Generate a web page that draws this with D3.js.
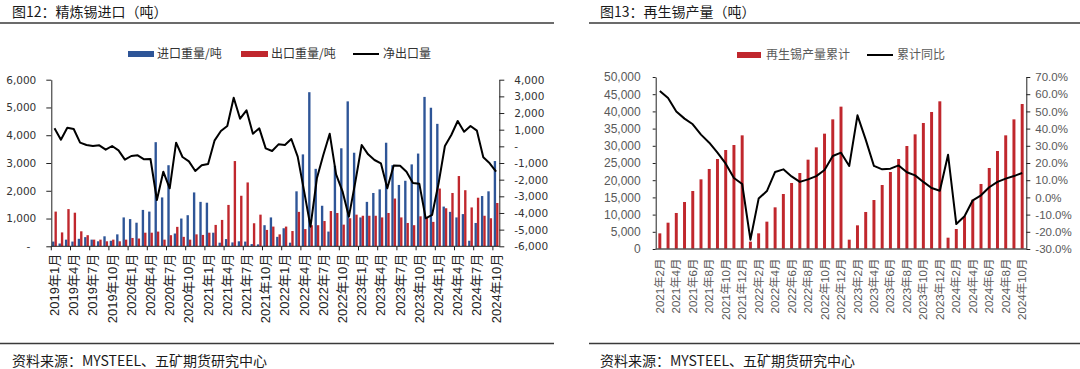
<!DOCTYPE html>
<html><head><meta charset="utf-8">
<script src="https://cdn.jsdelivr.net/npm/d3@7"></script>
<style>
body{margin:0;background:#fff;}
svg{display:block;}
</style></head><body>
<svg id="c" width="1080" height="369"></svg>
<script>
// ---------- Chart 1 data: 精炼锡进口 ----------
const months1 = [
 "2019年1月","2019年2月","2019年3月","2019年4月","2019年5月","2019年6月","2019年7月","2019年8月","2019年9月","2019年10月","2019年11月","2019年12月",
 "2020年1月","2020年2月","2020年3月","2020年4月","2020年5月","2020年6月","2020年7月","2020年8月","2020年9月","2020年10月","2020年11月","2020年12月",
 "2021年1月","2021年2月","2021年3月","2021年4月","2021年5月","2021年6月","2021年7月","2021年8月","2021年9月","2021年10月","2021年11月","2021年12月",
 "2022年1月","2022年2月","2022年3月","2022年4月","2022年5月","2022年6月","2022年7月","2022年8月","2022年9月","2022年10月","2022年11月","2022年12月",
 "2023年1月","2023年2月","2023年3月","2023年4月","2023年5月","2023年6月","2023年7月","2023年8月","2023年9月","2023年10月","2023年11月","2023年12月",
 "2024年1月","2024年2月","2024年3月","2024年4月","2024年5月","2024年6月","2024年7月","2024年8月","2024年9月","2024年10月"
];
const importVol = [
 170,100,240,170,270,330,240,180,360,200,430,1040,
 980,850,1310,1250,3750,1760,2920,460,1000,1120,1940,1600,
 1570,490,130,260,140,180,170,80,70,760,1040,340,
 650,130,1980,3310,5550,2790,1460,530,2900,3530,5220,3370,
 1040,1600,1920,2050,3730,2920,2210,2360,2950,3340,5380,4990,
 4410,1430,1240,1040,1160,200,840,1810,1980,3070
];
const exportVol = [
 1250,500,1340,1210,540,400,240,240,180,240,180,240,
 300,280,490,490,530,240,400,700,340,240,430,410,
 490,770,950,1490,3070,1820,2300,830,1140,590,710,430,
 710,550,1240,620,760,760,910,1270,1200,780,1010,1140,
 1100,1100,1100,1040,1200,1720,1040,840,760,1080,1030,880,
 2080,1370,1920,2530,2020,1400,1750,1100,1010,1560
];
const netExport = [
 1080,400,1120,1040,220,80,20,60,-200,20,-240,-800,
 -580,-540,-780,-760,-3220,-1520,-2520,220,-640,-900,-1480,-1140,
 -1060,340,920,1220,2920,1660,2160,760,1080,-120,-280,120,
 80,440,-620,-2690,-4820,-1920,-520,760,-1680,-2700,-4220,-2150,
 80,-480,-820,-1020,-2520,-1150,-1160,-1520,-2200,-2240,-4320,-4120,
 -2250,20,680,1520,880,1220,940,-660,-1020,-1520
];
const leftTicks1 = [0,1000,2000,3000,4000,5000,6000];
const rightTicks1 = [-6000,-5000,-4000,-3000,-2000,-1000,0,1000,2000,3000,4000];
const legend1 = ["进口重量/吨","出口重量/吨","净出口量"];

// ---------- Chart 2 data: 再生锡产量 ----------
const months2 = [
 "2021年2月","2021年3月","2021年4月","2021年5月","2021年6月","2021年7月","2021年8月","2021年9月","2021年10月","2021年11月","2021年12月",
 "2022年1月","2022年2月","2022年3月","2022年4月","2022年5月","2022年6月","2022年7月","2022年8月","2022年9月","2022年10月","2022年11月","2022年12月",
 "2023年1月","2023年2月","2023年3月","2023年4月","2023年5月","2023年6月","2023年7月","2023年8月","2023年9月","2023年10月","2023年11月","2023年12月",
 "2024年1月","2024年2月","2024年3月","2024年4月","2024年5月","2024年6月","2024年7月","2024年8月","2024年9月","2024年10月"
];
const recycledCum = [
 4550,7650,10470,13660,16860,20250,23260,26160,28780,30230,33040,
 2130,4550,7950,12110,15990,19190,22090,25970,29550,33530,37690,41380,
 2710,6880,10760,14240,18600,22380,26160,29940,33330,36630,39830,42930,
 3290,5810,9500,14340,18900,23550,28490,33040,37690,42150
];
const cumYoY = [
 61.9,57.8,50.0,45.8,42.5,36.5,31.8,26.0,19.6,11.3,7.8,
 -24.6,-0.7,3.7,14.8,16.3,12.2,9.0,10.5,12.4,15.9,24.1,26.0,
 18.3,47.7,33.6,18.3,16.3,16.7,18.6,14.6,12.8,9.0,5.5,3.9,
 24.8,-15.5,-11.0,-1.7,1.2,5.9,9.0,10.9,12.4,14.2
];
const leftTicks2 = [0,5000,10000,15000,20000,25000,30000,35000,40000,45000,50000];
const rightTicks2 = [-30,-20,-10,0,10,20,30,40,50,60,70];
const legend2 = ["再生锡产量累计","累计同比"];

const titles = ["图12：精炼锡进口（吨）","图13：再生锡产量（吨）"];
const source = "资料来源：MYSTEEL、五矿期货研究中心";

// ---------- styles ----------
const BLUE = "#2E5597", RED = "#C0272D";
const CJK = '"Noto Sans CJK SC","Noto Sans",sans-serif';
const LAT = '"Liberation Sans","Noto Sans CJK SC",sans-serif';

const svg = d3.select("#c");

// titles, rules, footers
[[12,0,554],[600,589,1080]].forEach(([tx,r0,r1],k)=>{
  svg.append("text").attr("x",tx).attr("y",16.5).text(titles[k])
    .style("font-family",CJK).style("font-size","14px").attr("fill","#1a1a1a");
  svg.append("line").attr("x1",r0).attr("x2",r1).attr("y1",23).attr("y2",23)
    .attr("stroke","#3a3a3a").attr("stroke-width",1.6);
  svg.append("line").attr("x1",r0).attr("x2",r1).attr("y1",343.5).attr("y2",343.5)
    .attr("stroke","#3a3a3a").attr("stroke-width",1.6);
  svg.append("text").attr("x",tx).attr("y",365.5).text(source)
    .style("font-family",CJK).style("font-size","14px").attr("fill","#1a1a1a");
});

function styleAxis(g, color, font, size, tcolor){
  g.select(".domain").attr("stroke",color).attr("stroke-width",1);
  g.selectAll(".tick line").attr("stroke",color);
  g.selectAll(".tick text").style("font-family",font).style("font-size",size).attr("fill",tcolor);
}
const fmtK = d => d===0 ? "-" : d3.format(",")(d).replace("−","-");

// ================= Chart 1 =================
{
  const x0 = 51.3, x1 = 499.3, yTop = 79.7, yBot = 246.3;
  const x = d3.scaleBand().domain(months1).range([x0,x1]).padding(0);
  const bw = x.bandwidth();
  const xs = d3.scaleBand().domain(["imp","exp"]).range([bw*0.13, bw*0.87]).padding(0);
  const yL = d3.scaleLinear().domain([0,6000]).range([yBot,yTop]);
  const yR = d3.scaleLinear().domain([-6000,4000]).range([yBot,yTop]);
  const g = svg.append("g");

  g.append("g").selectAll("rect.imp").data(months1).join("rect")
    .attr("x",(m)=>x(m)+xs("imp")).attr("width",xs.bandwidth())
    .attr("y",(m,i)=>yL(importVol[i])).attr("height",(m,i)=>yBot-yL(importVol[i]))
    .attr("fill",BLUE);
  g.append("g").selectAll("rect.exp").data(months1).join("rect")
    .attr("x",(m)=>x(m)+xs("exp")).attr("width",xs.bandwidth())
    .attr("y",(m,i)=>yL(exportVol[i])).attr("height",(m,i)=>yBot-yL(exportVol[i]))
    .attr("fill",RED);

  const line = d3.line().x((d,i)=>x(months1[i])+bw/2).y(d=>yR(d));
  g.append("path").datum(netExport).attr("d",line).attr("fill","none")
    .attr("stroke","#000").attr("stroke-width",2).attr("stroke-linejoin","round");

  const ga = g.append("g").attr("transform",`translate(${x0},0)`)
    .call(d3.axisLeft(yL).tickValues(leftTicks1).tickSize(5).tickSizeOuter(0).tickPadding(10).tickFormat(fmtK));
  styleAxis(ga,"#222",'"DejaVu Sans",sans-serif',"10.5px","#333");
  ga.selectAll(".tick text").filter(d=>d===0).attr("dx",-6);
  const gb = g.append("g").attr("transform",`translate(${x1},0)`)
    .call(d3.axisRight(yR).tickValues(rightTicks1).tickSize(5).tickSizeOuter(0).tickPadding(10).tickFormat(fmtK));
  styleAxis(gb,"#222",'"DejaVu Sans",sans-serif',"10.5px","#333");

  // x axis
  g.append("line").attr("x1",x0).attr("x2",x1).attr("y1",yBot).attr("y2",yBot).attr("stroke","#222");
  const tickMonths = months1.filter((m,i)=>i%3===0);
  g.append("g").selectAll("line").data(tickMonths).join("line")
    .attr("x1",m=>x(m)).attr("x2",m=>x(m)).attr("y1",yBot).attr("y2",yBot+4).attr("stroke","#222");
  g.append("g").selectAll("text").data(tickMonths).join("text")
    .attr("transform",m=>`translate(${x(m)+bw/2},${yBot+7.5}) rotate(-90)`)
    .attr("text-anchor","end").attr("dy","0.35em").text(m=>m)
    .style("font-family",LAT).style("font-size","13px").attr("fill","#222");

  // legend
  const ly = 54;
  const lg = g.append("g");
  lg.append("rect").attr("x",128).attr("y",ly-3).attr("width",26).attr("height",6).attr("fill",BLUE);
  lg.append("text").attr("x",157).attr("y",ly).attr("dy","0.36em").text(legend1[0]);
  lg.append("rect").attr("x",241).attr("y",ly-3).attr("width",27).attr("height",6).attr("fill",RED);
  lg.append("text").attr("x",271).attr("y",ly).attr("dy","0.36em").text(legend1[1]);
  lg.append("line").attr("x1",353).attr("x2",379).attr("y1",ly).attr("y2",ly).attr("stroke","#000").attr("stroke-width",2);
  lg.append("text").attr("x",383).attr("y",ly).attr("dy","0.36em").text(legend1[2]);
  lg.selectAll("text").style("font-family",CJK).style("font-size","12px").attr("fill","#333");
}

// ================= Chart 2 =================
{
  const x0 = 655.7, x1 = 1026.3, yTop = 77, yBot = 249;
  const x = d3.scaleBand().domain(months2).range([x0,x1]).paddingInner(0.64).paddingOuter(0.32);
  const bw = x.bandwidth();
  const yL = d3.scaleLinear().domain([0,50000]).range([yBot,yTop]);
  const yR = d3.scaleLinear().domain([-30,70]).range([yBot,yTop]);
  const g = svg.append("g");

  g.append("g").selectAll("rect").data(months2).join("rect")
    .attr("x",m=>x(m)).attr("width",bw)
    .attr("y",(m,i)=>yL(recycledCum[i])).attr("height",(m,i)=>yBot-yL(recycledCum[i]))
    .attr("fill",RED);

  const line = d3.line().x((d,i)=>x(months2[i])+bw/2).y(d=>yR(d));
  g.append("path").datum(cumYoY).attr("d",line).attr("fill","none")
    .attr("stroke","#000").attr("stroke-width",2).attr("stroke-linejoin","round");

  const ga = g.append("g").attr("transform",`translate(${x0},0)`)
    .call(d3.axisLeft(yL).tickValues(leftTicks2).tickSize(3).tickSizeOuter(0).tickPadding(12).tickFormat(d3.format(",")));
  styleAxis(ga,"#222",LAT,"12px","#595959");
  const gb = g.append("g").attr("transform",`translate(${x1},0)`)
    .call(d3.axisRight(yR).tickValues(rightTicks2).tickSize(4).tickSizeOuter(0).tickPadding(5)
      .tickFormat(d=>(d<0?"-":"")+Math.abs(d).toFixed(1)+"%"));
  styleAxis(gb,"#222",LAT,"11.5px","#595959");

  g.append("line").attr("x1",x0).attr("x2",x1).attr("y1",yBot).attr("y2",yBot)
    .attr("stroke","#555").attr("stroke-width",1.5);
  const labMonths = months2.filter((m,i)=>i%2===0);
  g.append("g").selectAll("text").data(labMonths).join("text")
    .attr("transform",m=>`translate(${x(m)+bw/2},${yBot+9.5}) rotate(-90)`)
    .attr("text-anchor","end").attr("dy","0.35em").text(m=>m)
    .style("font-family",LAT).style("font-size","11.5px").attr("fill","#595959");

  const ly = 55;
  const lg = g.append("g");
  lg.append("rect").attr("x",737).attr("y",ly-3).attr("width",24).attr("height",6).attr("fill",RED);
  lg.append("text").attr("x",766).attr("y",ly).attr("dy","0.36em").text(legend2[0]);
  lg.append("line").attr("x1",867).attr("x2",893).attr("y1",ly).attr("y2",ly).attr("stroke","#000").attr("stroke-width",2);
  lg.append("text").attr("x",897).attr("y",ly).attr("dy","0.36em").text(legend2[1]);
  lg.selectAll("text").style("font-family",CJK).style("font-size","12px").attr("fill","#595959");
}
</script>
</body></html>
